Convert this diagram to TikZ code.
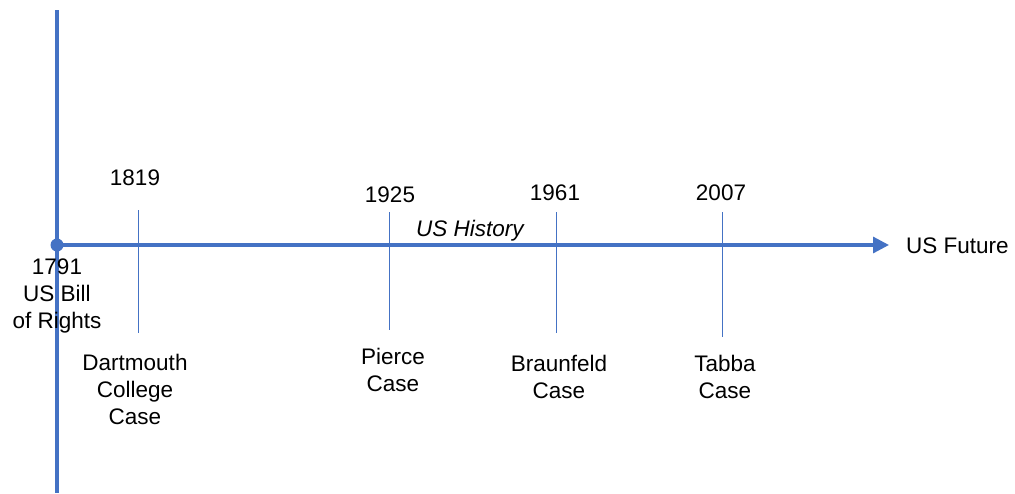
\documentclass[tikz,border=0pt]{standalone}
\usepackage{fontspec}
\setmainfont{Liberation Sans}
\usetikzlibrary{arrows.meta}
\definecolor{axisblue}{HTML}{4472C4}
\begin{document}
\begin{tikzpicture}[x=1pt,y=-1pt,
  axis/.style={draw=axisblue,line width=3.2pt},
  tick/.style={draw=axisblue,line width=1pt},
  lbl/.style={font=\fontsize{22.5}{27}\selectfont,align=center,inner sep=0pt,text=black}]
\useasboundingbox (0,0) rectangle (1015,493);
% main axes
\coordinate (top) at (57,10);
\coordinate (bot) at (57,493);
\coordinate (origin) at (57,245);
\coordinate (tip) at (889,245);
\draw[axis] (top) -- (bot);
\draw[axis,-{Triangle[length=16pt,width=16pt]}] (origin) -- (tip);
\fill[axisblue] (origin) circle (6.5);
% event ticks
\coordinate (t1a) at (138,210); \coordinate (t1b) at (138,333);
\coordinate (t2a) at (389,212); \coordinate (t2b) at (389,330);
\coordinate (t3a) at (556,212); \coordinate (t3b) at (556,333);
\coordinate (t4a) at (722,212); \coordinate (t4b) at (722,337);
\draw[tick] (t1a) -- (t1b);
\draw[tick] (t2a) -- (t2b);
\draw[tick] (t3a) -- (t3b);
\draw[tick] (t4a) -- (t4b);
% labels
\node[lbl] (y1819) at (135,178) {1819};
\node[lbl] (y1925) at (390,195) {1925};
\node[lbl] (y1961) at (555,193) {1961};
\node[lbl] (y2007) at (721,193) {2007};
\node[lbl,font=\fontsize{22.5}{27}\selectfont\itshape] (hist) at (470,231) {US History};
\node[lbl,anchor=west] (future) at (906,246) {US Future};
\node[lbl] (bill) at (57,296) {1791\\US Bill\\of Rights};
\node[lbl] (dart) at (135,389) {Dartmouth\\College\\Case};
\node[lbl] (pierce) at (393,370) {Pierce\\Case};
\node[lbl] (braun) at (559,377) {Braunfeld\\Case};
\node[lbl] (tabba) at (725,377) {Tabba\\Case};
\end{tikzpicture}
\end{document}
